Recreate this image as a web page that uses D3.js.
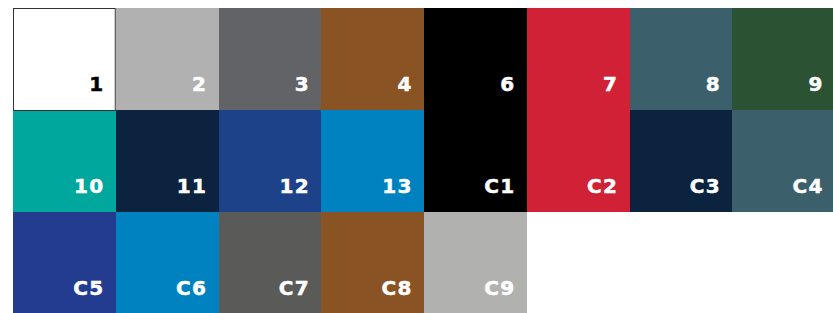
<!DOCTYPE html>
<html>
<head>
<meta charset="utf-8">
<script src="https://cdn.jsdelivr.net/npm/d3@7"></script>
<style>
  body { margin: 0; background: #fff; }
  svg { display: block; }
</style>
</head>
<body>
<div id="chart"></div>
<script>
const labels = ["1", "2", "3", "4", "6", "7", "8", "9",
                "10", "11", "12", "13", "C1", "C2", "C3", "C4",
                "C5", "C6", "C7", "C8", "C9"];
const fills = ["#ffffff", "#b1b1b1", "#626366", "#8a5324", "#000000", "#d12136", "#3b5f6b", "#2c5234",
               "#00a79d", "#0c2340", "#1d428a", "#0082c0", "#000000", "#d12136", "#0c2340", "#3b5f6b",
               "#243c90", "#0082c0", "#5a5b59", "#8a5324", "#b1b2b0"];
const textColors = ["#000000"].concat(d3.range(labels.length - 1).map(() => "#ffffff"));

const width = 833;
const height = 313;
const cols = 8;
const rows = 3;
const cellW = 102.75;
const cellH = 102;
const marginLeft = 13;
const marginTop = 8;

const svg = d3.select("#chart").append("svg")
  .attr("width", width)
  .attr("height", height);

const x = d3.scaleBand().domain(d3.range(cols)).range([marginLeft, marginLeft + cols * cellW]);
const y = d3.scaleBand().domain(d3.range(rows)).range([marginTop, marginTop + rows * cellH]);

const cells = svg.selectAll("g.cell")
  .data(labels.map((l, i) => ({ label: l, fill: fills[i], text: textColors[i], col: i % cols, row: Math.floor(i / cols) })))
  .enter()
  .append("g")
  .attr("class", "cell")
  .attr("transform", d => `translate(${x(d.col)}, ${y(d.row)})`);

cells.append("rect")
  .attr("width", x.bandwidth() + 0.5)
  .attr("height", y.bandwidth())
  .attr("fill", d => d.fill)
  .attr("shape-rendering", "crispEdges");

// outline on the white swatch only
svg.append("rect")
  .attr("x", x(0) + 0.5)
  .attr("y", y(0) + 0.5)
  .attr("width", x.bandwidth() - 1)
  .attr("height", y.bandwidth())
  .attr("fill", "none")
  .attr("stroke", "#333");

cells.append("text")
  .attr("x", x.bandwidth() - 11)
  .attr("y", y.bandwidth() - 19)
  .attr("text-anchor", "end")
  .attr("fill", d => d.text)
  .attr("stroke", d => d.text)
  .attr("stroke-width", 0.5)
  .style("font-family", "'DejaVu Sans', sans-serif")
  .style("font-weight", "bold")
  .style("font-size", "20px")
  .style("letter-spacing", "1.5px")
  .text(d => d.label);
</script>
</body>
</html>
